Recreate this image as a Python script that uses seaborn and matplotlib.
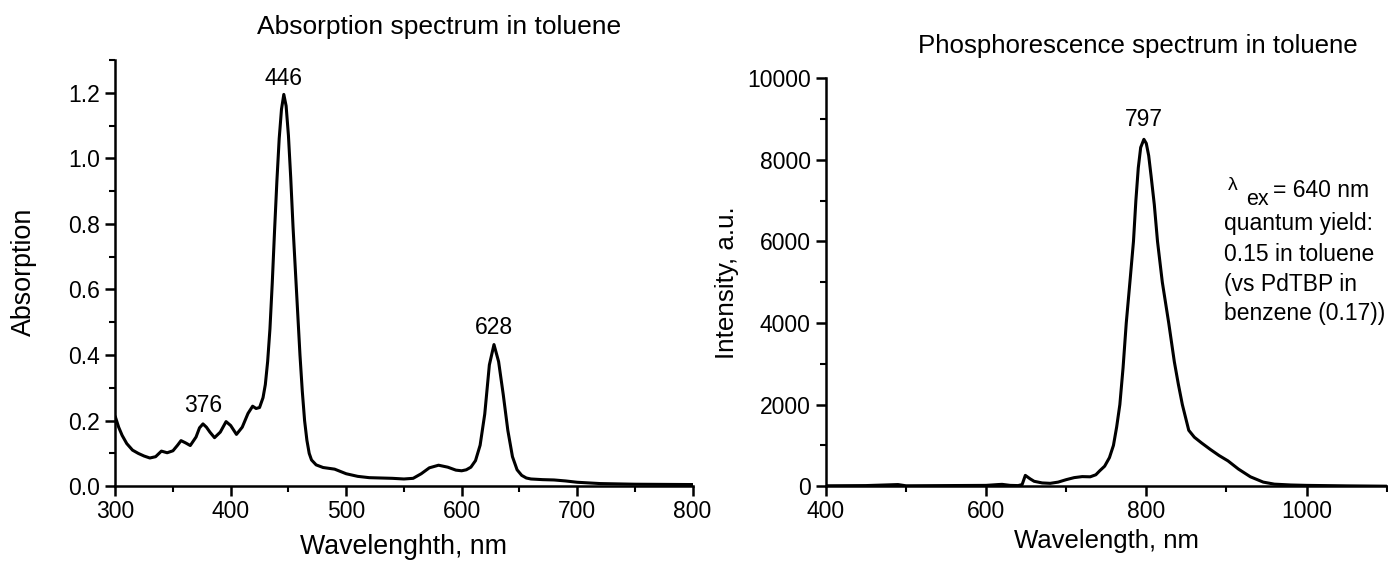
import numpy as np
import matplotlib
matplotlib.use("Agg")
import matplotlib.pyplot as plt
import seaborn as sns
import pandas as pd
from matplotlib.ticker import MultipleLocator, FormatStrFormatter

# Absorption spectrum (toluene)
abs_wl = [300, 303, 306, 310, 315, 320, 325, 330, 335, 340, 345, 350, 354, 357, 361, 365, 370, 373, 376,
          379, 382, 386, 391, 396, 400, 405, 410, 415, 419, 422, 425, 428, 430, 432, 434, 436,
          438, 440, 442, 444, 446, 448, 450, 452, 454, 456, 458, 460, 462, 464, 466, 468,
          470, 474, 480, 490, 500, 510, 520, 530, 540, 550, 558, 565, 572, 580, 588, 595,
          600, 604, 608, 612, 616, 620, 624, 628, 632, 636, 640, 644, 648, 652, 656, 660,
          670, 680, 690, 700, 720, 750, 800]
abs_val = [0.213, 0.18, 0.155, 0.13, 0.11, 0.10, 0.092, 0.086, 0.09, 0.107, 0.102, 0.108, 0.125, 0.139, 0.132, 0.124, 0.15, 0.178, 0.19,
           0.18, 0.165, 0.148, 0.165, 0.197, 0.185, 0.158, 0.18, 0.222, 0.244, 0.237, 0.24, 0.27, 0.31, 0.38, 0.48, 0.62,
           0.78, 0.93, 1.06, 1.15, 1.195, 1.16, 1.07, 0.94, 0.79, 0.66, 0.53, 0.40, 0.29, 0.20, 0.14, 0.10,
           0.08, 0.065, 0.057, 0.052, 0.038, 0.03, 0.026, 0.025, 0.024, 0.022, 0.024, 0.038, 0.056, 0.064, 0.058, 0.049,
           0.047, 0.05, 0.058, 0.078, 0.125, 0.22, 0.37, 0.432, 0.38, 0.28, 0.17, 0.09, 0.05, 0.033, 0.025, 0.022,
           0.02, 0.019, 0.016, 0.012, 0.008, 0.006, 0.005]

# Phosphorescence spectrum (toluene)
ph_wl = [400, 450, 490, 500, 550, 600, 615, 620, 630, 640, 645, 649, 655, 660, 670, 680,
         690, 700, 710, 720, 730, 737, 742, 748, 754, 759, 763, 767, 771, 775, 780, 784,
         787, 790, 793, 797, 800, 803, 806, 810, 814, 820, 828, 835, 840, 845, 853, 860,
         869, 880, 891, 902, 915, 930, 946, 960, 980, 1000, 1050, 1100]
ph_val = [10, 15, 40, 10, 15, 20, 40, 45, 20, 15, 40, 265, 180, 120, 80, 70,
          100, 160, 210, 235, 230, 280, 380, 490, 700, 1000, 1450, 2000, 2900, 4000, 5100, 6000,
          7000, 7800, 8300, 8500, 8400, 8100, 7600, 6900, 6000, 5000, 4000, 3050, 2500, 2000, 1370, 1200,
          1060, 900, 750, 620, 420, 230, 100, 50, 30, 20, 8, 0]

note_lines = ["quantum yield:", "0.15 in toluene", "(vs PdTBP in", "benzene (0.17))"]

abs_df = pd.DataFrame({"wl": abs_wl, "val": abs_val})
ph_df = pd.DataFrame({"wl": ph_wl, "val": ph_val})

sns.set_theme(style="ticks")
plt.rcParams["font.family"] = ["Liberation Sans", "DejaVu Sans"]
plt.rcParams["text.color"] = "black"

fig = plt.figure(figsize=(13.88, 5.66), dpi=100)
ax1 = fig.add_axes([0.083, 0.141, 0.416, 0.753])
ax2 = fig.add_axes([0.595, 0.141, 0.404, 0.721])

sns.lineplot(data=abs_df, x="wl", y="val", ax=ax1, color="black", linewidth=2.2)
sns.lineplot(data=ph_df, x="wl", y="val", ax=ax2, color="black", linewidth=2.2)

for ax in (ax1, ax2):
    sns.despine(ax=ax)
    for s in ("left", "bottom"):
        ax.spines[s].set_linewidth(1.8)
        ax.spines[s].set_color("black")
    ax.tick_params(axis="both", which="major", direction="out", length=7, width=1.8,
                   labelsize=16.5, colors="black", pad=4)
    ax.tick_params(axis="x", which="major", pad=3)
    ax.tick_params(axis="both", which="minor", direction="out", length=4, width=1.5, colors="black")
    ax.set_xlabel("")
    ax.set_ylabel("")

ax1.set_xlim(300, 800)
ax1.set_ylim(0, 1.3)
ax1.xaxis.set_major_locator(MultipleLocator(100))
ax1.xaxis.set_minor_locator(MultipleLocator(50))
ax1.yaxis.set_major_locator(MultipleLocator(0.2))
ax1.yaxis.set_minor_locator(MultipleLocator(0.1))
ax1.yaxis.set_major_formatter(FormatStrFormatter("%.1f"))

ax2.set_xlim(400, 1100)
ax2.set_ylim(0, 10000)
ax2.xaxis.set_major_locator(MultipleLocator(200))
ax2.xaxis.set_minor_locator(MultipleLocator(100))
ax2.yaxis.set_major_locator(MultipleLocator(2000))
ax2.yaxis.set_minor_locator(MultipleLocator(1000))

# peak labels
ax1.text(446, 1.21, "446", ha="center", va="bottom", fontsize=16.5)
ax1.text(376, 0.21, "376", ha="center", va="bottom", fontsize=16.5)
ax1.text(628, 0.45, "628", ha="center", va="bottom", fontsize=16.5)
ax2.text(797, 8700, "797", ha="center", va="bottom", fontsize=16.5)

# titles and axis labels
fig.text(0.316, 0.952, "Absorption spectrum in toluene", ha="center", va="center", fontsize=19)
fig.text(0.82, 0.918, "Phosphorescence spectrum in toluene", ha="center", va="center", fontsize=18.6)
fig.text(0.291, 0.034, "Wavelenghth, nm", ha="center", va="center", fontsize=19.3)
fig.text(0.797, 0.044, "Wavelength, nm", ha="center", va="center", fontsize=18.5)
fig.text(0.017, 0.52, "Absorption", ha="center", va="center", rotation=90, fontsize=19.4)
fig.text(0.524, 0.50, "Intensity, a.u.", ha="center", va="center", rotation=90, fontsize=18.7)

# excitation note: small raised lambda, lowered "ex"
fig.text(0.8845, 0.664, "λ", ha="left", va="baseline", fontsize=14)
fig.text(0.8975, 0.6378, "ex", ha="left", va="baseline", fontsize=15.5)
fig.text(0.9175, 0.652, "= 640 nm", ha="left", va="baseline", fontsize=16.5)
ys = [0.5936, 0.5389, 0.4859, 0.4346]
for t, y in zip(note_lines, ys):
    fig.text(0.882, y, t, ha="left", va="baseline", fontsize=16.5)

fig.savefig("out.png", dpi=100)
